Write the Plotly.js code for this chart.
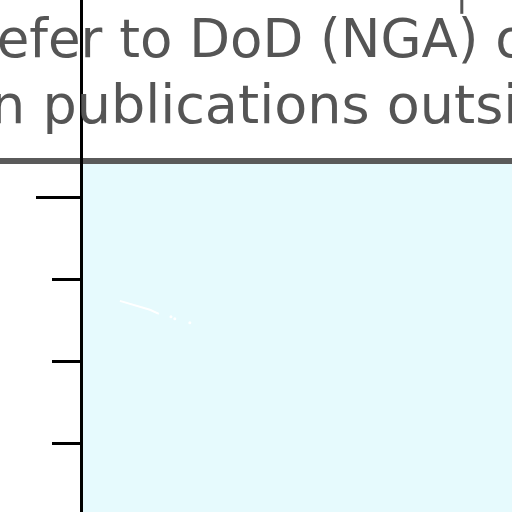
<!DOCTYPE html>
<html>
<head>
<meta charset="utf-8">
<script src="https://cdn.plot.ly/plotly-3.0.1.min.js"></script>
<style>html,body{margin:0;padding:0;background:#fff;}#chart{width:512px;height:512px;}</style>
</head>
<body>
<div id="chart"></div>
<script>
// Data
const lineX = [8.6, 11.0, 13.3, 15.6, 17.7];
const lineY = [27.43, 27.07, 26.70, 26.34, 25.85];
const dotX = [20.5, 21.4, 24.9];
const dotY = [25.48, 25.24, 24.75];
const minorTicks = [10, 20, 30];
const majorTicks = [40];
const borderY = 44.5;
const yRange = [1.68, 64.12];
const xRange = [0, 100];
const textLine1 = "refer to DoD (NGA) or";
const textLine2 = "in publications outside";

const traces = [
  {x: lineX, y: lineY, mode: 'lines', line: {color: '#ffffff', width: 2}, hoverinfo: 'skip', showlegend: false},
  {x: dotX, y: dotY, mode: 'markers', marker: {color: '#ffffff', size: 3}, hoverinfo: 'skip', showlegend: false},
  {x: [null], y: [null], yaxis: 'y2', showlegend: false}
];

const layout = {
  width: 512, height: 512,
  margin: {l: 83, r: 0, t: 0, b: 0, pad: 0},
  paper_bgcolor: '#ffffff',
  plot_bgcolor: '#ffffff',
  showlegend: false,
  xaxis: {range: xRange, showgrid: false, zeroline: false, showticklabels: false, ticks: '', showline: false, fixedrange: true},
  yaxis: {range: yRange, showgrid: false, zeroline: false, showticklabels: false,
          tickmode: 'array', tickvals: minorTicks, ticks: 'outside', ticklen: 28, tickwidth: 3, tickcolor: '#000',
          showline: true, linecolor: '#000', linewidth: 3},
  yaxis2: {range: yRange, overlaying: 'y', side: 'left', showgrid: false, zeroline: false, showticklabels: false,
           tickmode: 'array', tickvals: majorTicks, ticks: 'outside', ticklen: 46, tickwidth: 3, tickcolor: '#000',
           showline: false},
  shapes: [
    {type: 'rect', xref: 'paper', yref: 'y', x0: 0, x1: 1, y0: yRange[0], y1: borderY, fillcolor: '#e6fafd', line: {width: 0}, layer: 'below'},
    {type: 'line', xref: 'paper', yref: 'y', x0: -0.3, x1: 1, y0: borderY, y1: borderY, line: {color: '#5a5a5a', width: 6}, layer: 'below'},
    {type: 'line', xref: 'paper', yref: 'paper', x0: 0.883, x1: 0.883, y0: 0.973, y1: 1.01, line: {color: '#555', width: 3}, layer: 'above'}
  ],
  annotations: [
    {text: textLine1, xref: 'paper', yref: 'paper', x: -0.255, y: 0.862, xanchor: 'left', yanchor: 'bottom',
     showarrow: false, font: {family: 'DejaVu Sans', size: 53, color: '#555555'}},
    {text: textLine2, xref: 'paper', yref: 'paper', x: -0.253, y: 0.731, xanchor: 'left', yanchor: 'bottom',
     showarrow: false, font: {family: 'DejaVu Sans', size: 54, color: '#555555'}}
  ]
};

Plotly.newPlot('chart', traces, layout, {staticPlot: true, displayModeBar: false});
</script>
</body>
</html>
